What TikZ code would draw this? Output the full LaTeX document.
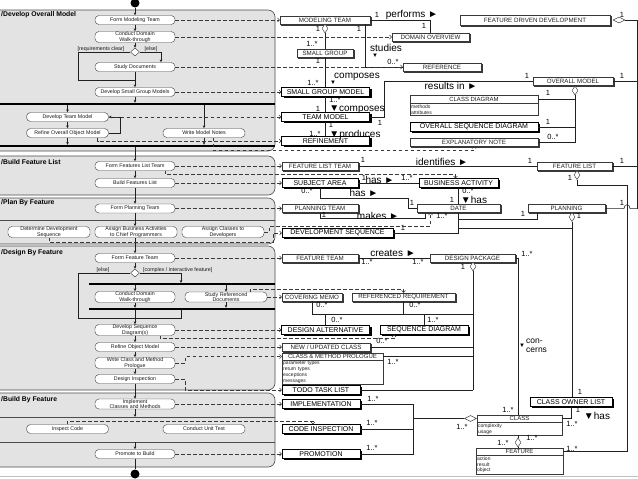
\documentclass[tikz,border=0pt]{standalone}
\usepackage{fontspec}
\setmainfont{Liberation Sans}
\usetikzlibrary{arrows.meta,shapes.geometric,shadows}

\tikzset{
  lane/.style={draw=gray!60!black, fill=gray!22, rounded corners=7pt, line width=0.6pt},
  lanesep/.style={draw=gray!60!black, line width=0.5pt},
  lanename/.style={anchor=west, inner sep=0pt, font=\bfseries\fontsize{6.8}{7}\selectfont},
  act/.style={draw=gray!50!black, fill=white, rounded corners=4pt, minimum width=80pt,
    minimum height=9pt, inner sep=0.4pt, align=center, text=gray!20!black,
    font=\fontsize{5.3}{5.3}\selectfont},
  decision/.style={diamond, draw=gray!40!black, fill=white, minimum width=9pt,
    minimum height=8pt, inner sep=0pt},
  guard/.style={inner sep=0pt, text=gray!20!black, font=\fontsize{5.3}{5.3}\selectfont},
  bar/.style={fill=black, minimum height=2pt, inner sep=0pt},
  startdot/.style={circle, fill=black, minimum size=9pt, inner sep=0pt},
  enddot/.style={circle, fill=black, minimum size=9pt, inner sep=0pt},
  obj/.style={draw=gray!45!black, fill=white, minimum height=8pt, inner sep=0.4pt,
    text=gray!25!black, font=\fontsize{6.2}{6.2}\selectfont,
    copy shadow={shadow xshift=1.2pt, shadow yshift=-0.8pt}},
  objb/.style={draw=black, fill=white, minimum height=9pt, inner sep=0.4pt,
    font=\fontsize{7}{7}\selectfont,
    drop shadow={shadow xshift=2pt, shadow yshift=-1.5pt, fill=black, opacity=1}},
  clshead/.style={draw=gray!45!black, fill=white, minimum height=7pt, inner sep=0.4pt,
    text=gray!25!black, font=\fontsize{6}{6}\selectfont},
  attrs/.style={draw=gray!45!black, fill=white, anchor=north, inner sep=1.2pt, align=left,
    text=gray!25!black, font=\fontsize{5}{5.8}\selectfont},
  aggv/.style={diamond, draw=gray!30!black, fill=white, minimum width=6pt,
    minimum height=9pt, inner sep=0pt},
  aggh/.style={diamond, draw=gray!30!black, fill=white, minimum width=12pt,
    minimum height=6pt, inner sep=0pt},
  flow/.style={draw=gray!25!black, line width=0.5pt, -{Stealth[length=3pt,width=2.6pt]}},
  dep/.style={draw=gray!45!black, line width=0.5pt, dash pattern=on 3.5pt off 2.5pt,
    -{Straight Barb[length=2pt,width=4pt]}},
  assoc/.style={draw=gray!25!black, line width=0.5pt},
  mult/.style={inner sep=0pt, font=\fontsize{7.5}{7.5}\selectfont},
  role/.style={inner sep=0pt, font=\fontsize{10}{10}\selectfont},
}

\begin{document}
\begin{tikzpicture}[x=1pt, y=-1pt]
\useasboundingbox (0,0) rectangle (638,479);

% swimlanes
\draw[lane] (-8,10) rectangle (275,151);
\draw[lane] (-8,156) rectangle (275,195);
\draw[lane] (-8,198) rectangle (275,244);
\draw[lane] (-8,246) rectangle (275,390);
\draw[lane] (-8,393) rectangle (275,467);
\draw[lanesep] (-8,220) -- (275,220);
\draw[lanesep] (-8,417) -- (275,417);
\draw[lanesep] (-8,442) -- (275,442);
\coordinate (s2) at (0,417);
\coordinate (s3) at (0,442);
\draw[gray!50] (0,476) -- (638,476);

\node[lanename] (p1) at (1,15) {/Develop Overall Model};
\node[lanename] (p2) at (1,162) {/Build Feature List};
\node[lanename] (p3) at (1,203) {/Plan By Feature};
\node[lanename] (p4) at (1,253) {/Design By Feature};
\node[lanename] (p5) at (1,400) {/Build By Feature};

% activities
\node[startdot] (start) at (135,3) {};
\node[act] (fmt) at (135,20) {Form Modeling Team};
\node[act] (cdw) at (135,37) {Conduct Domain\\Walk-through};
\node[decision] (dec1) at (135,52) {};
\node[guard] (g1) at (101,49) {[requirements clear]};
\node[guard] (g2) at (151,49) {[else]};
\node[act] (sdoc) at (135,67) {Study Documents};
\node[act] (dsgm) at (135,92) {Develop Small Group Models};
\node[bar, minimum width=283pt] (fork1) at (133.5,104) {};
\node[act, minimum width=82pt] (dtm) at (67.5,117) {Develop Team Model};
\node[act, minimum width=82pt] (rom) at (67.5,133) {Refine Overall Object Model};
\node[act, minimum width=82pt] (wmn) at (204,133) {Write Model Notes};
\node[bar, minimum width=283pt] (join1) at (133.5,146) {};

\node[act] (ffl) at (135,166) {Form Features List Team};
\node[act] (bfl) at (135,183) {Build Features List};
\node[act] (fpt) at (135,208.5) {Form Planning Team};
\node[act, minimum width=82pt] (dds) at (49,232) {Determine Development\\Sequence};
\node[act, minimum width=82pt] (aba) at (136,232) {Assign Business Activities\\to Chief Programmers};
\node[act, minimum width=82pt] (acd) at (223,232) {Assign Classes to\\Developers};

\node[act] (ftm) at (135,258) {Form Feature Team};
\node[decision] (dec2) at (135,273) {};
\node[guard] (g3) at (103,270) {[else]};
\node[guard, anchor=west] (g4) at (143,270) {[complex / interactive feature]};
\node[bar, minimum width=186pt] (fork2) at (182,284) {};
\node[act] (cdw2) at (135,297) {Conduct Domain\\Walk-through};
\node[act, minimum width=82pt] (srd) at (226,297) {Study Referenced\\Documents};
\node[bar, minimum width=186pt] (join2) at (182,309) {};
\coordinate (c2in) at (181,283);
\coordinate (else2) at (78,318);
\node[act] (dsd) at (135,330) {Develop Sequence\\Diagram(s)};
\node[act] (rfom) at (135,347) {Refine Object Model};
\node[act] (wcmp) at (135,363) {Write Class and Method\\Prologue};
\node[act] (dins) at (135,379) {Design Inspection};

\node[act] (icm) at (135,404) {Implement\\Classes and Methods};
\node[act, minimum width=82pt] (ic) at (67.5,429) {Inspect Code};
\node[act, minimum width=82pt] (cut) at (204,429) {Conduct Unit Test};
\node[act] (ptb) at (135,454) {Promote to Build};
\node[enddot] (stop) at (135,474) {};

% control flow
\draw[flow] (start) -- (fmt);
\draw[flow] (fmt) -- (cdw);
\draw[flow] (cdw) -- (dec1);
\draw[flow] (dec1.east) -| ([xshift=26pt]sdoc.north);
\draw[assoc] (dec1.west) -| (78,80) -- (135,80);
\draw[flow] (sdoc) -- (dsgm);
\draw[flow] (dsgm) -- (dsgm |- fork1.north);
\draw[flow] (fork1.south -| dtm.north) -- (dtm);
\draw[flow] (fork1.south -| wmn.north) -- (wmn);
\draw[flow] (dtm) -- (rom);
\draw[flow] (rom.east) -- ++(12,0) |- (dtm.east);
\draw[flow] (rom) -- (rom |- join1.north);
\draw[flow] (wmn) -- (wmn |- join1.north);
\draw[flow] (join1.south -| ffl.north) -- (ffl);
\draw[flow] (ffl) -- (bfl);
\draw[flow] (bfl) -- (fpt);
\draw[flow] (fpt) -- (fpt |- aba.north);
\draw[flow] (aba.south -| ftm) -- (ftm);
\draw[flow] (ftm) -- (dec2);
\draw[flow] (dec2.east) -| (c2in);
\draw[assoc] (dec2.west) -| (else2) -- (else2 -| c2in) -- (join2.south -| c2in);
\draw[flow] (fork2.south -| cdw2.north) -- (cdw2);
\draw[flow] (fork2.south -| srd.north) -- (srd);
\draw[flow] (cdw2) -- (cdw2 |- join2.north);
\draw[flow] (srd) -- (srd |- join2.north);
\draw[flow] (join2.south -| dsd.north) -- (dsd);
\draw[flow] (dsd) -- (rfom);
\draw[flow] (rfom) -- (wcmp);
\draw[flow] (wcmp) -- (dins);
\draw[flow] (dins) -- (icm);
\draw[flow] (icm) -- (icm |- s2);
\draw[flow] (icm |- s3) -- (ptb);
\draw[assoc, line width=0.8pt] (ptb) -- (stop);

% objects
\node[obj, minimum width=90pt] (mt) at (325,20) {MODELING TEAM};
\node[obj, minimum width=150pt, minimum height=10pt] (fdd) at (535,20) {FEATURE DRIVEN DEVELOPMENT};
\node[aggh] (fddd) at (619,20) {};
\coordinate (rail) at (637,20);
\node[aggv] (mtd) at (325,28.5) {};
\node[obj, minimum width=77pt] (dov) at (430.5,37) {DOMAIN OVERVIEW};
\node[obj, minimum width=56pt] (sg) at (325,53) {SMALL GROUP};
\node[obj, minimum width=78pt] (ref) at (442,67) {REFERENCE};
\node[objb, minimum width=88pt] (sgm) at (325.5,92) {SMALL GROUP MODEL};
\node[objb, minimum width=88pt] (tm) at (325.5,117) {TEAM MODEL};
\node[objb, minimum width=88pt] (rfn) at (325.5,141) {REFINEMENT};
\node[obj, minimum width=80pt] (om) at (573,81) {OVERALL MODEL};
\node[aggv] (omd) at (575,90.5) {};
\node[clshead, minimum width=128pt, minimum height=8pt] (cd) at (474,99) {CLASS DIAGRAM};
\node[attrs, text width=125.6pt] (cdbody) at (cd.south) {methods\\attributes};
\node[objb, minimum width=128pt] (osd) at (474,127) {OVERALL SEQUENCE DIAGRAM};
\node[obj, minimum width=128pt] (en) at (474,142) {EXPLANATORY NOTE};

\node[obj, minimum width=76pt] (flt) at (320,166) {FEATURE LIST TEAM};
\node[obj, minimum width=75pt] (fl) at (574.5,166) {FEATURE LIST};
\node[aggv] (fld) at (577,175) {};
\coordinate (frail) at (627,185);
\node[objb, minimum width=76pt] (sa) at (320,183) {SUBJECT AREA};
\node[objb, minimum width=79pt] (ba) at (458.5,183) {BUSINESS ACTIVITY};
\coordinate (dtj) at (408,198);
\node[obj, minimum width=76pt] (pt) at (320,208.5) {PLANNING TEAM};
\node[obj, minimum width=83pt] (dt) at (458.5,208.5) {DATE};
\node[obj, minimum width=77pt] (pl) at (566.5,208.5) {PLANNING};
\node[aggv] (pld) at (572,217) {};
\coordinate (pj) at (572,228);
\node[objb, minimum width=111pt] (ds) at (337.5,233) {DEVELOPMENT SEQUENCE};

\node[obj, minimum width=76pt] (ft) at (320,258) {FEATURE TEAM};
\node[obj, minimum width=85pt] (dp) at (472.5,258) {DESIGN PACKAGE};
\node[aggv] (dpd) at (473,266.5) {};
\node[obj, minimum width=60pt] (cm) at (312,297) {COVERING MEMO};
\node[obj, minimum width=103pt] (rr) at (403.5,297) {REFERENCED REQUIREMENT};
\coordinate (dj) at (312,314);
\node[objb, minimum width=88pt] (da) at (325.5,330) {DESIGN ALTERNATIVE};
\node[objb, minimum width=88pt] (sd) at (424,330) {SEQUENCE DIAGRAM};
\node[obj, minimum width=88pt] (nuc) at (326,347) {NEW / UPDATED CLASS};
\node[clshead, minimum width=101pt] (cmp) at (332.5,356.5) {CLASS \& METHOD PROLOGUE};
\node[attrs, text width=98.6pt] (cmpbody) at (cmp.south) {parameter types\\return types\\exceptions\\messages};
\node[objb, minimum width=78pt] (ttl) at (321,390) {TODO TASK LIST};

\node[objb, minimum width=78pt] (impl) at (321,404) {IMPLEMENTATION};
\node[objb, minimum width=78pt] (ci) at (321,429) {CODE INSPECTION};
\node[objb, minimum width=78pt] (prm) at (321,454) {PROMOTION};
\coordinate (cj) at (413,418.5);
\node[objb, minimum width=82pt] (col) at (571,402) {CLASS OWNER LIST};
\node[clshead, minimum width=85pt] (cls) at (519.5,418.5) {CLASS};
\node[attrs, text width=82.6pt] (clsbody) at (cls.south) {complexity\\usage};
\node[aggh] (clsd) at (470.5,418.5) {};
\node[aggv] (clsfd) at (518,442.5) {};
\node[clshead, minimum width=87pt] (feat) at (519.5,451.5) {FEATURE};
\node[attrs, text width=84.6pt] (featbody) at (feat.south) {action\\result\\object};

% associations
\draw[assoc] (mt.east) -| (dov.north);
\draw[assoc] (mtd.south) -- (sg.north);
\draw[assoc] (sg.south) -- (sg.south |- sgm.north);
\draw[assoc] ([xshift=-5pt]mt.south east) |- (ref.west);
\draw[assoc] (sgm.south -| sg) -- (tm.north -| sg);
\draw[assoc] (tm.south -| sg) -- (rfn.north -| sg);
\draw[assoc] (tm.east) -- ++(15,0) |- (om.west);
\draw[assoc] (fddd.east) -- (rail) -- (rail |- pl.east);
\draw[assoc] (om.east) -- (om.east -| rail);
\draw[assoc] (omd.south) -- (omd.south |- en.east) -- (en.east);
\draw[assoc] (cd.east) -- (cd.east -| omd);
\draw[assoc] (osd.east) -- (osd.east -| omd);

\draw[assoc] (flt) -- (fl);
\draw[assoc] (fl.east) -- (fl.east -| rail);
\draw[assoc] (fld.south) |- (frail) |- (feat.east);
\draw[assoc] (sa) -- (ba);
\draw[assoc] (sa.south) |- (dtj) |- (dt.west);
\draw[assoc] (ba.south) -- (dt.north);
\draw[assoc] (pt.south) -- ++(0,6) -| ([xshift=-33pt]dt.south);
\draw[assoc] ([yshift=-7pt]dt.south) -| ([xshift=-29.5pt]pl.south);
\draw[assoc] (dt.south) |- (pj);
\draw[assoc] (ds.east) -| (dt.south);
\draw[assoc] (pl.east) -- (624,208.5) .. controls (624,203.5) and (630,203.5) .. (630,208.5) -- (pl.east -| rail);
\draw[assoc] (pld.south) -- (pld.south |- col.north);

\draw[assoc] (ft) -- (dp);
\draw[assoc] (dp.east) -| ([xshift=-1.5pt]cls.north);
\draw[assoc] (dpd.south) -- (dpd.south |- ttl.east);
\draw[assoc] (cm.south) -- (dj) -- (dj -| dpd);
\draw[assoc] (rr.south) -- (rr.south |- dj);
\draw[assoc] (da.north) -- (da.north |- dj);
\draw[assoc] (sd.north) -- (sd.north |- dj);
\draw[assoc] (nuc.east) -- (nuc.east -| dpd);
\draw[assoc] (cmp.east) -- (cmp.east -| dpd);
\draw[assoc] (ttl.east) -- (ttl.east -| dpd);

\draw[assoc] (impl.east) -| (cj |- prm.east) -- (prm.east);
\draw[assoc] (ci.east) -- (ci.east -| cj);
\draw[assoc] (cj) -- (clsd.west);
\draw[assoc] (col.south) |- (cls.east);
\draw[assoc] (clsbody.south -| clsfd) -- (clsfd.north);
\draw[assoc] (clsfd.south) -- (feat.north -| clsfd);

% multiplicities and role names
\node[mult] (m1) at (377,15) {1};
\node[role] (r1) at (412,15) {performs ►};
\node[mult] (m2) at (424,26) {1};
\node[mult] (m3) at (318,29) {1};
\node[mult] (m4) at (359,29) {1};
\node[mult] (m5) at (312,44) {1..*};
\node[role] (r2) at (386,48) {studies};
\node[role, font=\fontsize{6}{6}\selectfont] (r3) at (375,56) {▼};
\node[mult] (m6) at (318,61) {1};
\node[mult] (m7) at (393,62) {0..*};
\node[role] (r4) at (357,77) {composes};
\node[role, font=\fontsize{6}{6}\selectfont] (r5) at (333,83) {▼};
\node[mult] (m8) at (313,83) {1..*};
\node[role] (r6) at (451,86) {results in ►};
\node[mult] (m9) at (527,76) {1};
\node[mult] (m10) at (622,76) {1};
\node[mult] (m11) at (622,15) {1};
\node[mult] (m12) at (335,99.5) {1..*};
\node[mult] (m13) at (318,109) {1};
\node[role] (r7) at (357,109.5) {▼composes};
\node[mult] (m14) at (548,93) {1};
\node[mult] (m15) at (380,123) {1};
\node[mult] (m16) at (331,124.5) {1};
\node[mult] (m17) at (548,122) {1};
\node[mult] (m18) at (315,134) {1..*};
\node[role] (r8) at (355,134.5) {▼produces};
\node[mult] (m19) at (553,137) {0..*};

\node[mult] (m20) at (363,160) {1};
\node[role] (r9) at (442,162) {identifies ►};
\node[mult] (m21) at (530,161) {1};
\node[mult] (m22) at (622,161) {1};
\node[mult] (m23) at (364,178) {1};
\node[role] (r10) at (380,180) {has ►};
\node[mult] (m24) at (407,178) {1..*};
\node[mult] (m25) at (570,178) {1};
\node[mult] (m26) at (307,191) {0..*};
\node[role] (r11) at (364,193) {has ►};
\node[mult] (m27) at (468,191) {0..*};
\node[mult] (m28) at (412,203) {1};
\node[mult] (m29) at (452,200) {1};
\node[role] (r12) at (474,200) {▼has};
\node[mult] (m30) at (622,203) {1};
\node[mult] (m31) at (324,215) {1};
\node[role] (r13) at (378,216) {makes ►};
\node[mult] (m32) at (442,216) {1..*};
\node[mult] (m33) at (523,214) {1};
\node[mult] (m34) at (579,216) {1};
\node[mult] (m35) at (403,228) {1};

\node[role] (r14) at (393,253) {creates ►};
\node[mult] (m36) at (367,262) {1..*};
\node[mult] (m37) at (418,262) {1..*};
\node[mult] (m38) at (463,267) {1};
\node[mult] (m39) at (527,254) {1..*};
\node[mult] (m40) at (322,305) {0..*};
\node[mult] (m41) at (415,305) {0..*};
\node[mult] (m42) at (337,320) {0..*};
\node[mult] (m43) at (433,320) {1..*};
\node[mult] (m44) at (382,341) {0..*};
\node[mult] (m45) at (393,362) {1..*};
\node[role, font=\fontsize{6}{6}\selectfont] (r15) at (522,346) {▼};
\node[role, anchor=west, font=\fontsize{8.5}{8.5}\selectfont] (r16) at (526,341) {con-};
\node[role, anchor=west, font=\fontsize{8.5}{8.5}\selectfont] (r17) at (526,350) {cerns};

\node[mult] (m46) at (580,392) {1};
\node[mult] (m47) at (373,399) {1..*};
\node[mult] (m48) at (508,410) {1..*};
\node[mult] (m49) at (578,410) {1};
\node[role] (r18) at (597,416) {▼has};
\node[mult] (m50) at (372,423) {1..*};
\node[mult] (m51) at (462,427) {1..*};
\node[mult] (m52) at (572,424) {1..*};
\node[mult] (m53) at (503,443) {1..*};
\node[mult] (m54) at (532,438) {1..*};
\node[mult] (m55) at (372,448) {1..*};
\node[mult] (m56) at (572,449) {1..*};

% activity outputs
\draw[dep] (fmt) -- (mt);
\draw[dep] (cdw) -- (dov);
\draw[dep] (sdoc) -- (ref);
\draw[dep] (dsgm) -- (sgm);
\draw[dep] (dtm) -- (tm);
\draw[dep] ([xshift=30pt]rom.south) |- (rfn.west);
\draw[dep] ([xshift=9pt]wmn.south) -- ++(0,12.5) -| (en.south);
\draw[dep] (ffl) -- (flt);
\draw[dep] ([xshift=30pt]ffl.south) -- ++(0,4) -| ([xshift=-3pt]ba.north);
\draw[dep] (bfl) -- (sa);
\draw[dep] (fpt) -- (pt);
\draw[dep] (dds.south) -- ++(0,5) -| ([xshift=-9pt]ds.west) -- (ds.west);
\draw[dep] (acd.east) -- ++(5,0) -- ++(0,-6) -| ([xshift=-28pt]dt.south);
\draw[dep] (ftm) -- (ft);
\draw[dep] ([xshift=24pt]srd.north) -- ++(0,-3) -| (rr.north);
\draw[dep] (srd) -- (cm);
\draw[dep] (dsd) -- (da);
\draw[dep] ([xshift=25pt]dsd.south) -- ++(0,3) -| ([xshift=-30pt]sd.south);
\draw[dep] (rfom) -- (nuc);
\draw[dep] (wcmp.east) -- ++(10,0) |- (cmp.west);
\draw[dep] (dins.east) -- ++(10,0) |- (ttl.west);
\draw[dep] (icm) -- (impl);
\draw[dep] (ic.north) -- ++(0,-3.5) -| ([xshift=-8pt]ci.north);
\draw[dep] (ptb) -- (prm);
\end{tikzpicture}
\end{document}
